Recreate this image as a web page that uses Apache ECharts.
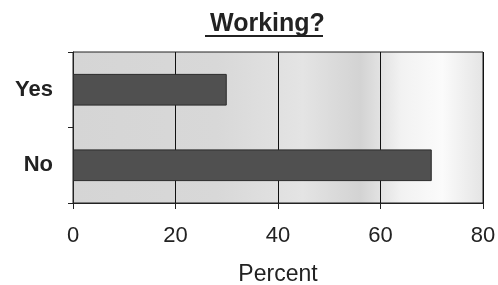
<!DOCTYPE html>
<html><head><meta charset="utf-8">
<script src="https://cdn.jsdelivr.net/npm/echarts@6/dist/echarts.min.js"></script>
<style>html,body{margin:0;padding:0;background:#fff}#c{width:498px;height:285px}</style>
</head><body><div id="c"></div>
<script>
var categories = ['Yes', 'No'];
var percentValues = [30, 70];
var xTicks = { min: 0, max: 80, interval: 20 };
var titleText = 'Working?';
var xAxisName = 'Percent';

var chart = echarts.init(document.getElementById('c'), null, { renderer: 'canvas' });
var font = 'Liberation Sans, Arial, sans-serif';
chart.setOption({
  animation: false,
  backgroundColor: '#ffffff',
  title: {
    text: titleText, left: 205, top: 7,
    textStyle: { fontFamily: font, fontWeight: 'bold', fontSize: 25, color: '#222' }
  },
  graphic: [{
    type: 'line', shape: { x1: 205, y1: 36, x2: 323, y2: 36 },
    style: { stroke: '#222', lineWidth: 2 }
  }],
  grid: {
    left: 73, right: 15, top: 52, bottom: 82, show: true,
    outerBoundsMode: 'none', containLabel: false,
    borderColor: '#222', borderWidth: 1,
    backgroundColor: {
      type: 'linear', x: 0, y: 0, x2: 1, y2: 0,
      colorStops: [
        { offset: 0, color: '#d5d5d5' },
        { offset: 0.35, color: '#d8d8d8' },
        { offset: 0.56, color: '#e4e4e4' },
        { offset: 0.7, color: '#d3d3d3' },
        { offset: 0.8, color: '#f2f2f2' },
        { offset: 0.9, color: '#fbfbfb' },
        { offset: 1, color: '#e4e4e4' }
      ]
    }
  },
  xAxis: {
    type: 'value', min: xTicks.min, max: xTicks.max, interval: xTicks.interval,
    name: xAxisName, nameLocation: 'middle', nameGap: 60,
    nameTextStyle: { fontFamily: font, fontSize: 23, color: '#222' },
    axisLine: { show: true, lineStyle: { color: '#222', width: 1 } },
    axisTick: { show: true, length: 6, lineStyle: { color: '#222' } },
    axisLabel: { margin: 22, fontFamily: font, fontSize: 22, color: '#222' },
    splitLine: { show: true, lineStyle: { color: '#111', width: 1 } }
  },
  yAxis: {
    type: 'category', data: categories, inverse: true,
    axisLine: { show: true, lineStyle: { color: '#222', width: 1 } },
    axisTick: { show: true, length: 5, lineStyle: { color: '#222' } },
    axisLabel: { margin: 20, fontFamily: font, fontSize: 22, fontWeight: 'bold', color: '#222' }
  },
  series: [{
    type: 'bar', data: percentValues, barWidth: '42%',
    itemStyle: { color: '#505050', borderColor: '#2a2a2a', borderWidth: 1 }
  }]
});
</script></body></html>
